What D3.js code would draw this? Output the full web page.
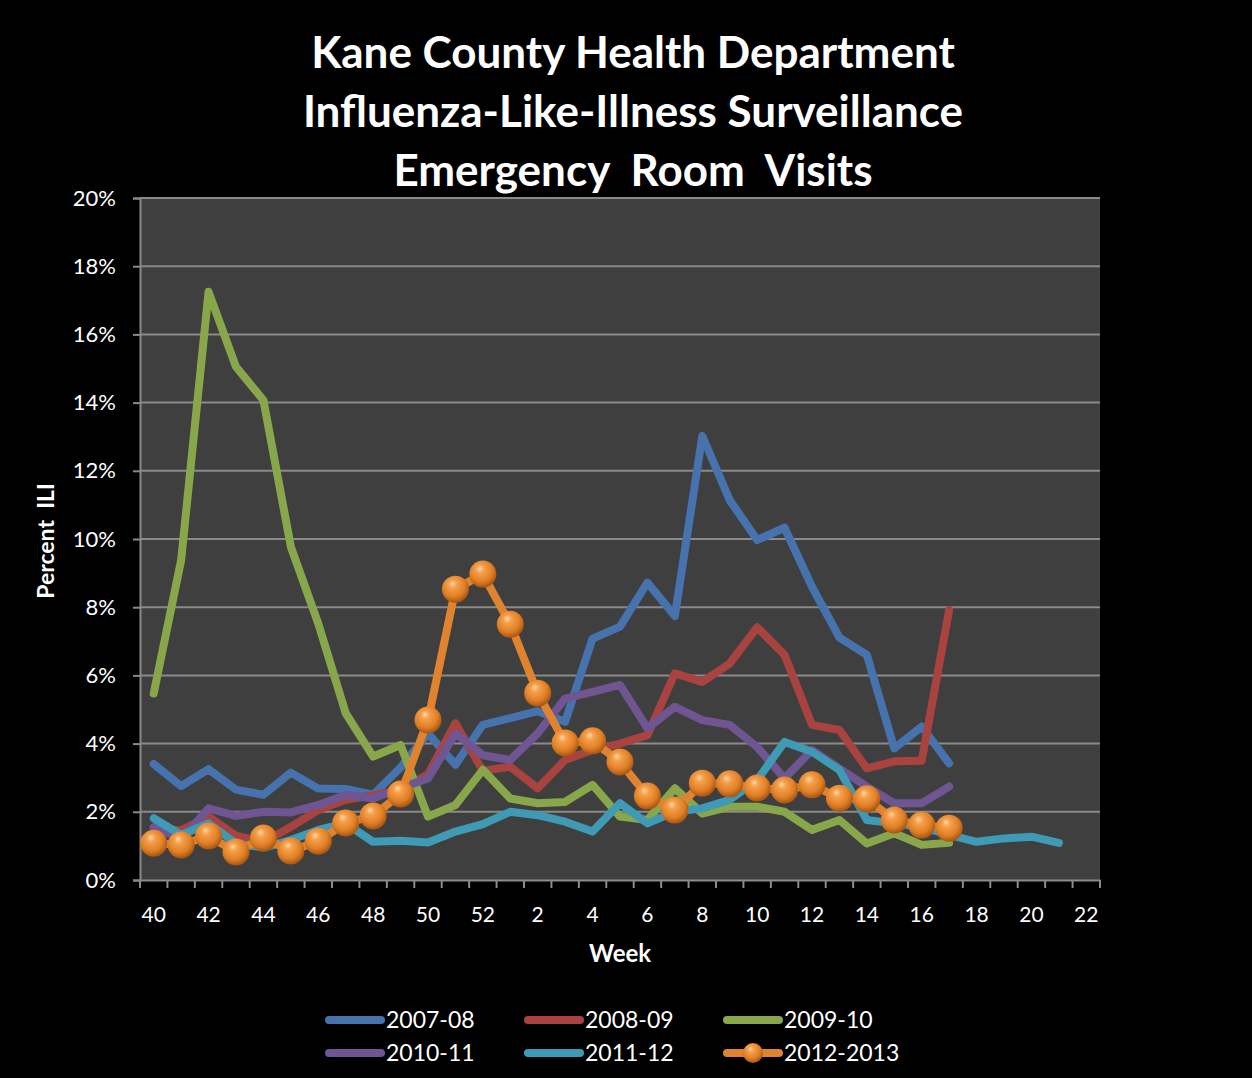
<!DOCTYPE html>
<html><head><meta charset="utf-8">
<script src="https://cdn.jsdelivr.net/npm/d3@7"></script>
<style>
html,body{margin:0;padding:0;background:#000;}
svg{display:block;}
text{font-family:Lato,"Open Sans",sans-serif;fill:#fff;white-space:pre;}
</style></head>
<body>
<svg id="chart" width="1252" height="1078"></svg>
<script>
const weeks = [40,41,42,43,44,45,46,47,48,49,50,51,52,1,2,3,4,5,6,7,8,9,10,11,12,13,14,15,16,17,18,19,20,21,22];
const xTickLabels = ["40","42","44","46","48","50","52","2","4","6","8","10","12","14","16","18","20","22"];
const yTicks = [0,2,4,6,8,10,12,14,16,18,20];
const seriesNames = ["2007-08","2008-09","2009-10","2010-11","2011-12","2012-2013"];
const seriesColors = ["#4673ad","#a9433f","#88a74a","#6f5592","#3f9ab5","#e0832f"];

const s2007 = [3.4,2.75,3.25,2.65,2.5,3.15,2.68,2.67,2.5,3.3,4.3,3.38,4.55,4.75,4.95,4.64,7.08,7.43,8.72,7.74,13.02,11.14,9.97,10.33,8.6,7.11,6.6,3.86,4.5,3.42,null,null,null,null,null];
const s2008 = [1.5,1.46,1.86,1.3,1.1,1.56,2.05,2.35,2.49,2.64,3.1,4.6,3.2,3.32,2.69,3.52,3.81,4.0,4.25,6.06,5.81,6.35,7.41,6.6,4.55,4.4,3.27,3.48,3.5,7.92,null,null,null,null,null];
const s2009 = [5.47,9.38,17.25,15.05,14.07,9.77,7.52,4.89,3.62,3.96,1.86,2.2,3.23,2.39,2.25,2.29,2.79,1.86,1.76,2.69,1.95,2.15,2.15,2.0,1.47,1.76,1.07,1.37,1.03,1.09,null,null,null,null,null];
const s2010 = [1.55,1.2,2.1,1.88,2.0,1.98,2.2,2.5,2.39,2.7,2.98,4.3,3.66,3.52,4.3,5.32,5.52,5.72,4.45,5.08,4.69,4.55,3.9,2.98,3.81,3.27,2.74,2.25,2.25,2.74,null,null,null,null,null];
const s2011 = [1.81,1.32,1.66,1.07,0.95,1.17,1.47,1.66,1.12,1.15,1.1,1.42,1.64,2.0,1.9,1.71,1.42,2.25,1.66,2.0,2.1,2.35,2.93,4.05,3.76,3.23,1.76,1.66,1.56,1.32,1.12,1.22,1.27,1.09,null];
const s2012 = [1.08,1.03,1.29,0.82,1.23,0.85,1.14,1.67,1.88,2.52,4.69,8.53,8.97,7.5,5.48,4.02,4.08,3.46,2.46,2.05,2.84,2.82,2.7,2.64,2.79,2.4,2.38,1.76,1.61,1.52,null,null,null,null,null];
const allSeries = [s2007,s2008,s2009,s2010,s2011,s2012];

const svg = d3.select("#chart");
svg.append("rect").attr("width",1252).attr("height",1078).attr("fill","#000");

const defs = svg.append("defs");
const rg = defs.append("radialGradient").attr("id","ball").attr("cx","45%").attr("cy","40%").attr("r","60%").attr("fx","38%").attr("fy","28%");
rg.append("stop").attr("offset","0%").attr("stop-color","#ffd9a8");
rg.append("stop").attr("offset","25%").attr("stop-color","#f6a04c");
rg.append("stop").attr("offset","70%").attr("stop-color","#e07f25");
rg.append("stop").attr("offset","100%").attr("stop-color","#a65512");

const L=140, R=1100, T=198, B=880;
const x = d3.scaleBand().domain(d3.range(weeks.length)).range([L,R]);
const y = d3.scaleLinear().domain([0,20]).range([B,T]);
const cx = i => x(i) + x.bandwidth()/2;

svg.append("rect").attr("x",L).attr("y",T).attr("width",R-L).attr("height",B-T).attr("fill","#3f3f3f");

// gridlines
svg.append("g").selectAll("line").data(yTicks.filter(v=>v>0)).join("line")
  .attr("x1",L).attr("x2",R).attr("y1",d=>y(d)).attr("y2",d=>y(d))
  .attr("stroke","#8a8a8a").attr("stroke-width",2);

// y axis
const yAxis = svg.append("g").attr("transform",`translate(${L},0)`)
  .call(d3.axisLeft(y).tickValues(yTicks).tickFormat(d=>d+"%").tickSize(7).tickPadding(17));
yAxis.select(".domain").attr("stroke","#8a8a8a").attr("stroke-width",2);
yAxis.selectAll(".tick line").attr("stroke","#8a8a8a").attr("stroke-width",2);
yAxis.selectAll("text").attr("fill","#fff").style("font-size","22px").style("font-family","Lato");

// x axis
const xAxis = svg.append("g").attr("transform",`translate(0,${B})`)
  .call(d3.axisBottom(x).tickValues([]).tickSize(0));
xAxis.select(".domain").attr("stroke","#8a8a8a").attr("stroke-width",2);
svg.append("g").selectAll("line").data(d3.range(weeks.length+1)).join("line")
  .attr("x1",k=>L+k*x.step()).attr("x2",k=>L+k*x.step()).attr("y1",B).attr("y2",B+8)
  .attr("stroke","#8a8a8a").attr("stroke-width",2);
svg.append("g").selectAll("text").data(d3.range(weeks.length).filter(i=>xTickLabels.includes(String(weeks[i]))))
  .join("text").attr("x",i=>cx(i)).attr("y",922).attr("text-anchor","middle")
  .style("font-size","21px").text(i=>weeks[i]);

// axis titles
svg.append("text").attr("x",620).attr("y",962).attr("text-anchor","middle")
  .style("font-size","24px").style("font-weight","700").text("Week");
svg.append("text").attr("transform","translate(54,541) rotate(-90)").attr("text-anchor","middle")
  .style("font-size","23px").style("font-weight","700").text("Percent  ILI");

// title
const titleLines = ["Kane County Health Department","Influenza-Like-Illness Surveillance","Emergency  Room  Visits"];
svg.append("g").selectAll("text").data(titleLines).join("text")
  .attr("x",633).attr("y",(d,i)=>68+i*59).attr("text-anchor","middle")
  .style("font-size","44px").style("font-weight","700").text(d=>d);

// lines
const line = d3.line().defined(d=>d.v!=null).x(d=>cx(d.i)).y(d=>y(d.v));
allSeries.forEach((s,k)=>{
  const pts = s.map((v,i)=>({i,v}));
  svg.append("path").datum(pts).attr("d",line).attr("fill","none")
    .attr("stroke",seriesColors[k]).attr("stroke-width",8)
    .attr("stroke-linejoin","round").attr("stroke-linecap","round");
});
// balls
svg.append("g").selectAll("circle").data(s2012.map((v,i)=>({i,v})).filter(d=>d.v!=null)).join("circle")
  .attr("cx",d=>cx(d.i)).attr("cy",d=>y(d.v)).attr("r",13.5).attr("fill","url(#ball)");

// legend
const legX = [325,524,723], legY=[1020,1053];
seriesNames.forEach((n,k)=>{
  const gx = legX[k%3], gy = legY[Math.floor(k/3)];
  const g = svg.append("g");
  g.append("line").attr("x1",gx+4).attr("x2",gx+56).attr("y1",gy).attr("y2",gy)
    .attr("stroke",seriesColors[k]).attr("stroke-width",8).attr("stroke-linecap","round");
  if(k===5) g.append("circle").attr("cx",gx+30).attr("cy",gy).attr("r",10).attr("fill","url(#ball)");
  g.append("text").attr("x",gx+61).attr("y",gy+8).style("font-size","23px").text(n);
});
</script>
</body></html>
